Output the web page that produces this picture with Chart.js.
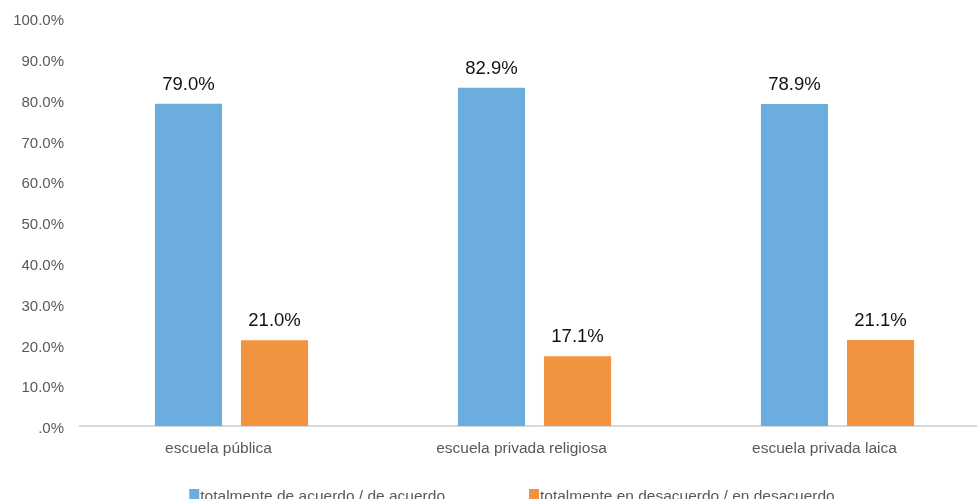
<!DOCTYPE html>
<html>
<head>
<meta charset="utf-8">
<script src="https://cdn.jsdelivr.net/npm/chart.js@4.4.1/dist/chart.umd.min.js"></script>
<style>
  html, body { margin: 0; padding: 0; background: #fff; overflow: hidden; }
  #wrap { width: 990px; height: 499px; position: relative; }
</style>
</head>
<body>
<div id="wrap"><canvas id="c"></canvas></div>
<script>
// Categories and series values (percent)
const categories = ['escuela pública', 'escuela privada religiosa', 'escuela privada laica'];
const seriesNames = ['totalmente de acuerdo / de acuerdo', 'totalmente en desacuerdo / en desacuerdo'];
const acuerdo = [79.0, 82.9, 78.9];
const desacuerdo = [21.0, 17.1, 21.1];
const yTicks = [0, 10, 20, 30, 40, 50, 60, 70, 80, 90, 100];

const BLUE = '#6caddf';
const ORANGE = '#f29340';
const FONT = '"Liberation Sans", Arial, sans-serif';

function pct(v) {
  return v === 0 ? '.0%' : v.toFixed(1) + '%';
}

// Value labels above each bar
const valueLabels = {
  id: 'valueLabels',
  afterDatasetsDraw(chart) {
    const ctx = chart.ctx;
    ctx.save();
    ctx.font = '18.5px ' + FONT;
    ctx.fillStyle = '#111';
    ctx.textAlign = 'center';
    ctx.textBaseline = 'alphabetic';
    chart.data.datasets.forEach((ds, i) => {
      const meta = chart.getDatasetMeta(i);
      meta.data.forEach((bar, j) => {
        ctx.fillText(pct(ds.data[j]), bar.x, bar.y - 14);
      });
    });
    ctx.restore();
  }
};

// Legend row at the foot of the chart
const footLegend = {
  id: 'footLegend',
  afterDraw(chart) {
    const ctx = chart.ctx;
    ctx.save();
    ctx.font = '15.5px ' + FONT;
    ctx.textBaseline = 'alphabetic';
    const box = 10, gapText = 1, gapItems = 84;
    const items = chart.data.datasets.map(ds => ({
      label: ds.label, color: ds.backgroundColor, w: ctx.measureText(ds.label).width
    }));
    let total = 0;
    items.forEach((it, k) => { total += box + gapText + it.w + (k ? gapItems : 0); });
    let x = 512 - total / 2;
    const boxTop = 489, baseline = 501;
    items.forEach((it, k) => {
      if (k) x += gapItems;
      ctx.fillStyle = it.color;
      ctx.fillRect(x, boxTop, box, box);
      x += box + gapText;
      ctx.fillStyle = '#595959';
      ctx.fillText(it.label, x, baseline);
      x += it.w;
    });
    ctx.restore();
  }
};

new Chart(document.getElementById('c'), {
  type: 'bar',
  data: {
    labels: categories,
    datasets: [
      { label: seriesNames[0], data: acuerdo, backgroundColor: BLUE },
      { label: seriesNames[1], data: desacuerdo, backgroundColor: ORANGE }
    ]
  },
  options: {
    responsive: true,
    maintainAspectRatio: false,
    animation: false,
    categoryPercentage: 0.568,
    barPercentage: 0.78,
    layout: { padding: { top: 18, right: 1, bottom: 38, left: 0 } },
    plugins: {
      legend: { display: false },
      tooltip: { enabled: false }
    },
    scales: {
      x: {
        grid: { display: false, drawTicks: false },
        border: { display: true, color: '#d9d9d9', width: 2 },
        ticks: { color: '#595959', font: { family: FONT, size: 15.5 }, padding: 13, maxRotation: 0, labelOffset: -13 },
        afterFit(s) { s.height = 35; }
      },
      y: {
        min: 0,
        max: 100,
        afterBuildTicks(s) { s.ticks = yTicks.map(v => ({ value: v })); },
        grid: { display: false, drawTicks: false },
        border: { display: false },
        ticks: {
          color: '#595959',
          font: { family: FONT, size: 15 },
          padding: 16,
          labelOffset: 3,
          callback: v => pct(v)
        },
        afterFit(s) { s.width = 80; s.paddingTop = 0; s.paddingBottom = 0; }
      }
    }
  },
  plugins: [valueLabels, footLegend]
});
</script>
</body>
</html>
